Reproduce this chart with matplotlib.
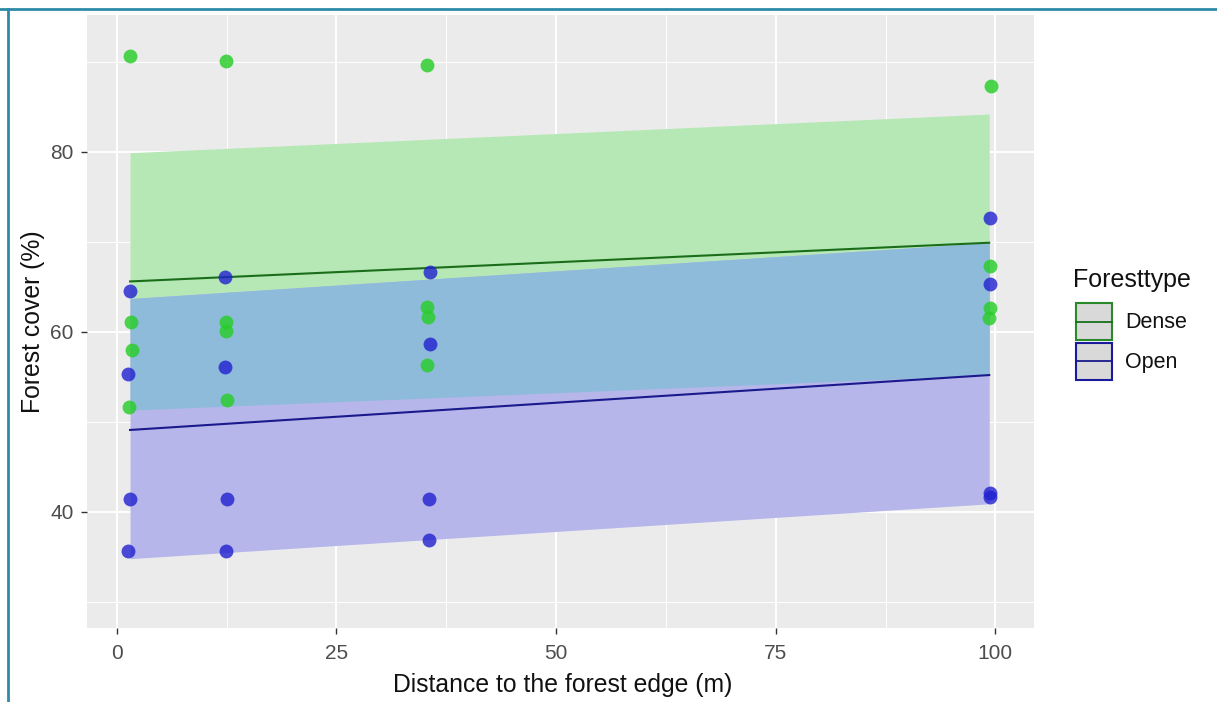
import numpy as np
import matplotlib
matplotlib.use("Agg")
import matplotlib.pyplot as plt
from matplotlib.patches import Rectangle
from matplotlib.lines import Line2D

plt.rcParams['font.family'] = ['Liberation Sans', 'DejaVu Sans']

# ---- data ----
dense_x = [1.5, 1.6, 1.7, 1.4, 12.4, 12.4, 12.4, 12.5, 35.3, 35.3, 35.4, 35.3, 99.5, 99.4, 99.4, 99.3]
dense_y = [90.6, 61.1, 58.0, 51.7, 90.1, 61.1, 60.1, 52.4, 89.6, 62.8, 61.7, 56.3, 87.3, 67.3, 62.7, 61.5]
open_x = [1.5, 1.3, 1.5, 1.3, 12.3, 12.3, 12.5, 12.4, 35.6, 35.6, 35.5, 35.5, 99.4, 99.4, 99.4, 99.4]
open_y = [64.5, 55.3, 41.4, 35.7, 66.1, 56.1, 41.4, 35.7, 66.7, 58.6, 41.4, 36.9, 72.6, 65.3, 42.1, 41.6]

fit_x = [1.5, 99.3]
dense_fit = [65.6, 69.9]
dense_lo = [51.3, 55.2]
dense_hi = [79.9, 84.2]
open_fit = [49.1, 55.2]
open_lo = [34.8, 40.9]
open_hi = [63.7, 69.9]

x_ticks = [0, 25, 50, 75, 100]
y_ticks = [40, 60, 80]

W, H = 1217, 702
fig = plt.figure(figsize=(W / 100, H / 100), dpi=100)
fig.patch.set_facecolor('white')

def fx(px):
    return px / W

def fy(py):
    return 1 - py / H

L, R, T, B = 87, 1034, 15, 628
ax = fig.add_axes([fx(L), fy(B), fx(R) - fx(L), fy(T) - fy(B)])
ax.set_facecolor('#EBEBEB')
ax.set_xlim(-3.4, 104.4)
ax.set_ylim(27.1, 95.2)

# grid
ax.set_xticks(x_ticks)
ax.set_yticks(y_ticks)
ax.set_xticks([12.5, 37.5, 62.5, 87.5], minor=True)
ax.set_yticks([30, 50, 70, 90], minor=True)
ax.grid(which='major', color='white', linewidth=1.4)
ax.grid(which='minor', color='white', linewidth=0.7)
ax.set_axisbelow(True)
for s in ax.spines.values():
    s.set_visible(False)
ax.tick_params(which='major', length=4.3, width=1.0, color='#333333', labelsize=15,
               labelcolor='#4D4D4D')
ax.tick_params(axis='x', pad=7)
ax.tick_params(axis='y', pad=5.5)
ax.tick_params(which='minor', length=0)

# ribbons
fx_arr = np.array(fit_x)
ax.fill_between(fx_arr, dense_lo, dense_hi, color='#B6E8B6', linewidth=0, zorder=2)
ax.fill_between(fx_arr, open_lo, open_hi, color='#B6B6EB', linewidth=0, zorder=2)
ov_lo = np.maximum(dense_lo, open_lo)
ov_hi = np.minimum(dense_hi, open_hi)
ax.fill_between(fx_arr, ov_lo, ov_hi, color='#8FBBDB', linewidth=0, zorder=2)

# fitted lines
ax.plot(fit_x, dense_fit, color='#1A6E1A', linewidth=1.5, zorder=3)
ax.plot(fit_x, open_fit, color='#1A1A8C', linewidth=1.5, zorder=3)

# points
ax.scatter(dense_x, dense_y, s=100, color='#28CD28', alpha=0.82, linewidths=0, zorder=4)
ax.scatter(open_x, open_y, s=100, color='#2020D0', alpha=0.8, linewidths=0, zorder=4)

# axis titles
fig.text(fx(563), fy(685), 'Distance to the forest edge (m)', fontsize=17.8,
         color='#111111', ha='center', va='center')
fig.text(fx(33), fy(321.5), 'Forest cover (%)', fontsize=17.8, color='#111111',
         ha='center', va='center', rotation=90)

# legend (manual)
fig.text(fx(1073), fy(280), 'Foresttype', fontsize=18, color='#111111', va='center', ha='left')
keys = [('Dense', '#2A8A2A', '#1A6E1A', 303), ('Open', '#1A1A9C', '#1A1A8C', 343)]
for label, edge, lc, top in keys:
    fig.add_artist(Rectangle((fx(1076), fy(top + 37)), fx(36), 37 / H,
                             facecolor='#D9D9D9', edgecolor=edge, linewidth=1.5,
                             transform=fig.transFigure))
    fig.add_artist(Line2D([fx(1076), fx(1112)], [fy(top + 18.5)] * 2, color=lc,
                          linewidth=1.3, transform=fig.transFigure))
    fig.text(fx(1125), fy(top + 19.5), label, fontsize=15.5, color='#111111',
             va='center', ha='left')

# frame of the screenshot
fig.add_artist(Line2D([0, 1], [fy(8.5)] * 2, color='#2E8BA8', linewidth=2,
                      transform=fig.transFigure))
fig.add_artist(Line2D([fx(7.5)] * 2, [0, fy(8.5)], color='#2E8BA8', linewidth=2,
                      transform=fig.transFigure))

fig.savefig('out.png', dpi=100)
